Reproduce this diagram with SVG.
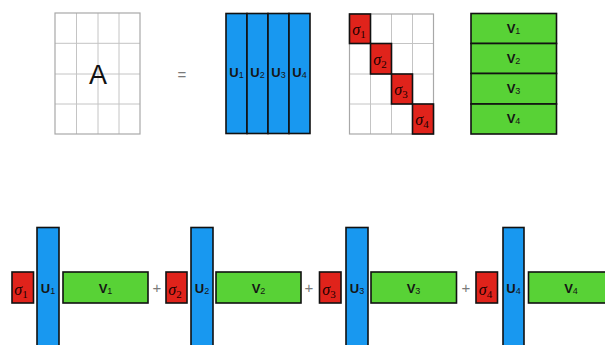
<svg xmlns="http://www.w3.org/2000/svg" width="605" height="345" viewBox="0 0 605 345">
<style>
.grid{fill:none;stroke:#c4c4c4;stroke-width:1}
.gborder{fill:none;stroke:#a8a8a8;stroke-width:1.2}
.u{fill:#1898f0;stroke:#111;stroke-width:1.6}
.v{fill:#58d236;stroke:#111;stroke-width:1.6}
.s{fill:#e0231b;stroke:#111;stroke-width:1.6}
.lbl{font-family:"Liberation Sans Narrow","Liberation Sans",Arial,sans-serif;font-size:13px;font-weight:bold;fill:#151515;text-anchor:middle}
.sub{font-size:9px;font-weight:normal}
.sig{font-family:"Liberation Serif","Times New Roman",serif;font-style:italic;font-size:16px;fill:#1a0000;text-anchor:middle}
.ssub{font-size:11px;font-style:normal}
.op{font-family:"Liberation Sans",Arial,sans-serif;font-size:15px;fill:#7a7a7a;text-anchor:middle}
</style>
<rect width="605" height="345" fill="#fff"/>

<g id="matrixA">
<path class="grid" d="M76.5 13V134M98 13V134M119 13V134M55 43.3H140M55 74H140M55 104H140"/>
<rect class="gborder" x="55" y="13" width="85" height="121"/>
<text x="98" y="84" style="font-family:'Liberation Sans Narrow','Liberation Sans',Arial,sans-serif;font-size:27px;fill:#111;text-anchor:middle">A</text>
</g>

<g id="equals"><text class="op" x="182" y="80">=</text></g>

<g id="matrixU">
<rect class="u" x="226" y="13.5" width="21" height="120"/>
<rect class="u" x="247" y="13.5" width="21" height="120"/>
<rect class="u" x="268" y="13.5" width="21" height="120"/>
<rect class="u" x="289" y="13.5" width="21" height="120"/>
<text class="lbl" x="236.5" y="77">U<tspan class="sub" dy="1">1</tspan></text>
<text class="lbl" x="257.5" y="77">U<tspan class="sub" dy="1">2</tspan></text>
<text class="lbl" x="278.5" y="77">U<tspan class="sub" dy="1">3</tspan></text>
<text class="lbl" x="299.5" y="77">U<tspan class="sub" dy="1">4</tspan></text>
</g>

<g id="matrixSigma">
<path class="grid" d="M370.5 14V134M391.5 14V134M412.5 14V134M349.5 43.5H433.5M349.5 74H433.5M349.5 104H433.5"/>
<rect class="gborder" x="349.5" y="14" width="84" height="120"/>
<rect class="s" x="349.5" y="14" width="21" height="29.5"/>
<rect class="s" x="370.5" y="43.5" width="21" height="30.5"/>
<rect class="s" x="391.5" y="74" width="21" height="30"/>
<rect class="s" x="412.5" y="104" width="21" height="30"/>
<text class="sig" x="359" y="35">σ<tspan class="ssub" dy="3">1</tspan></text>
<text class="sig" x="380" y="65">σ<tspan class="ssub" dy="3">2</tspan></text>
<text class="sig" x="401" y="95">σ<tspan class="ssub" dy="3">3</tspan></text>
<text class="sig" x="422" y="125">σ<tspan class="ssub" dy="3">4</tspan></text>
</g>

<g id="matrixV">
<rect class="v" x="471" y="13.5" width="85.5" height="30"/>
<rect class="v" x="471" y="43.5" width="85.5" height="30"/>
<rect class="v" x="471" y="73.5" width="85.5" height="30.5"/>
<rect class="v" x="471" y="104" width="85.5" height="30"/>
<text class="lbl" x="513.5" y="33">V<tspan class="sub" dy="1">1</tspan></text>
<text class="lbl" x="513.5" y="63">V<tspan class="sub" dy="1">2</tspan></text>
<text class="lbl" x="513.5" y="93">V<tspan class="sub" dy="1">3</tspan></text>
<text class="lbl" x="513.5" y="123">V<tspan class="sub" dy="1">4</tspan></text>
</g>

<g id="term1">
<rect class="s" x="12" y="272" width="21.5" height="31"/>
<rect class="u" x="37" y="227.5" width="22" height="125"/>
<rect class="v" x="63" y="272" width="85" height="31"/>
<text class="sig" x="21" y="295">σ<tspan class="ssub" dy="3">1</tspan></text>
<text class="lbl" x="48" y="293">U<tspan class="sub" dy="1">1</tspan></text>
<text class="lbl" x="105.5" y="293">V<tspan class="sub" dy="1">1</tspan></text>
</g>
<g id="plus1"><text class="op" x="157" y="293">+</text></g>

<g id="term2">
<rect class="s" x="166" y="272" width="21" height="31"/>
<rect class="u" x="191" y="227.5" width="22" height="125"/>
<rect class="v" x="216" y="272" width="85" height="31"/>
<text class="sig" x="175" y="295">σ<tspan class="ssub" dy="3">2</tspan></text>
<text class="lbl" x="202" y="293">U<tspan class="sub" dy="1">2</tspan></text>
<text class="lbl" x="258.5" y="293">V<tspan class="sub" dy="1">2</tspan></text>
</g>
<g id="plus2"><text class="op" x="309" y="293">+</text></g>

<g id="term3">
<rect class="s" x="319.5" y="272" width="21.5" height="31"/>
<rect class="u" x="346" y="227.5" width="22" height="125"/>
<rect class="v" x="371" y="272" width="85.5" height="31"/>
<text class="sig" x="329" y="295">σ<tspan class="ssub" dy="3">3</tspan></text>
<text class="lbl" x="357" y="293">U<tspan class="sub" dy="1">3</tspan></text>
<text class="lbl" x="413.5" y="293">V<tspan class="sub" dy="1">3</tspan></text>
</g>
<g id="plus3"><text class="op" x="466" y="293">+</text></g>

<g id="term4">
<rect class="s" x="476" y="272" width="21.5" height="31"/>
<rect class="u" x="503" y="227.5" width="21" height="125"/>
<rect class="v" x="528.5" y="272" width="85" height="31"/>
<text class="sig" x="485.5" y="295">σ<tspan class="ssub" dy="3">4</tspan></text>
<text class="lbl" x="513.5" y="293">U<tspan class="sub" dy="1">4</tspan></text>
<text class="lbl" x="571" y="293">V<tspan class="sub" dy="1">4</tspan></text>
</g>

<g id="connectors"></g>
</svg>
